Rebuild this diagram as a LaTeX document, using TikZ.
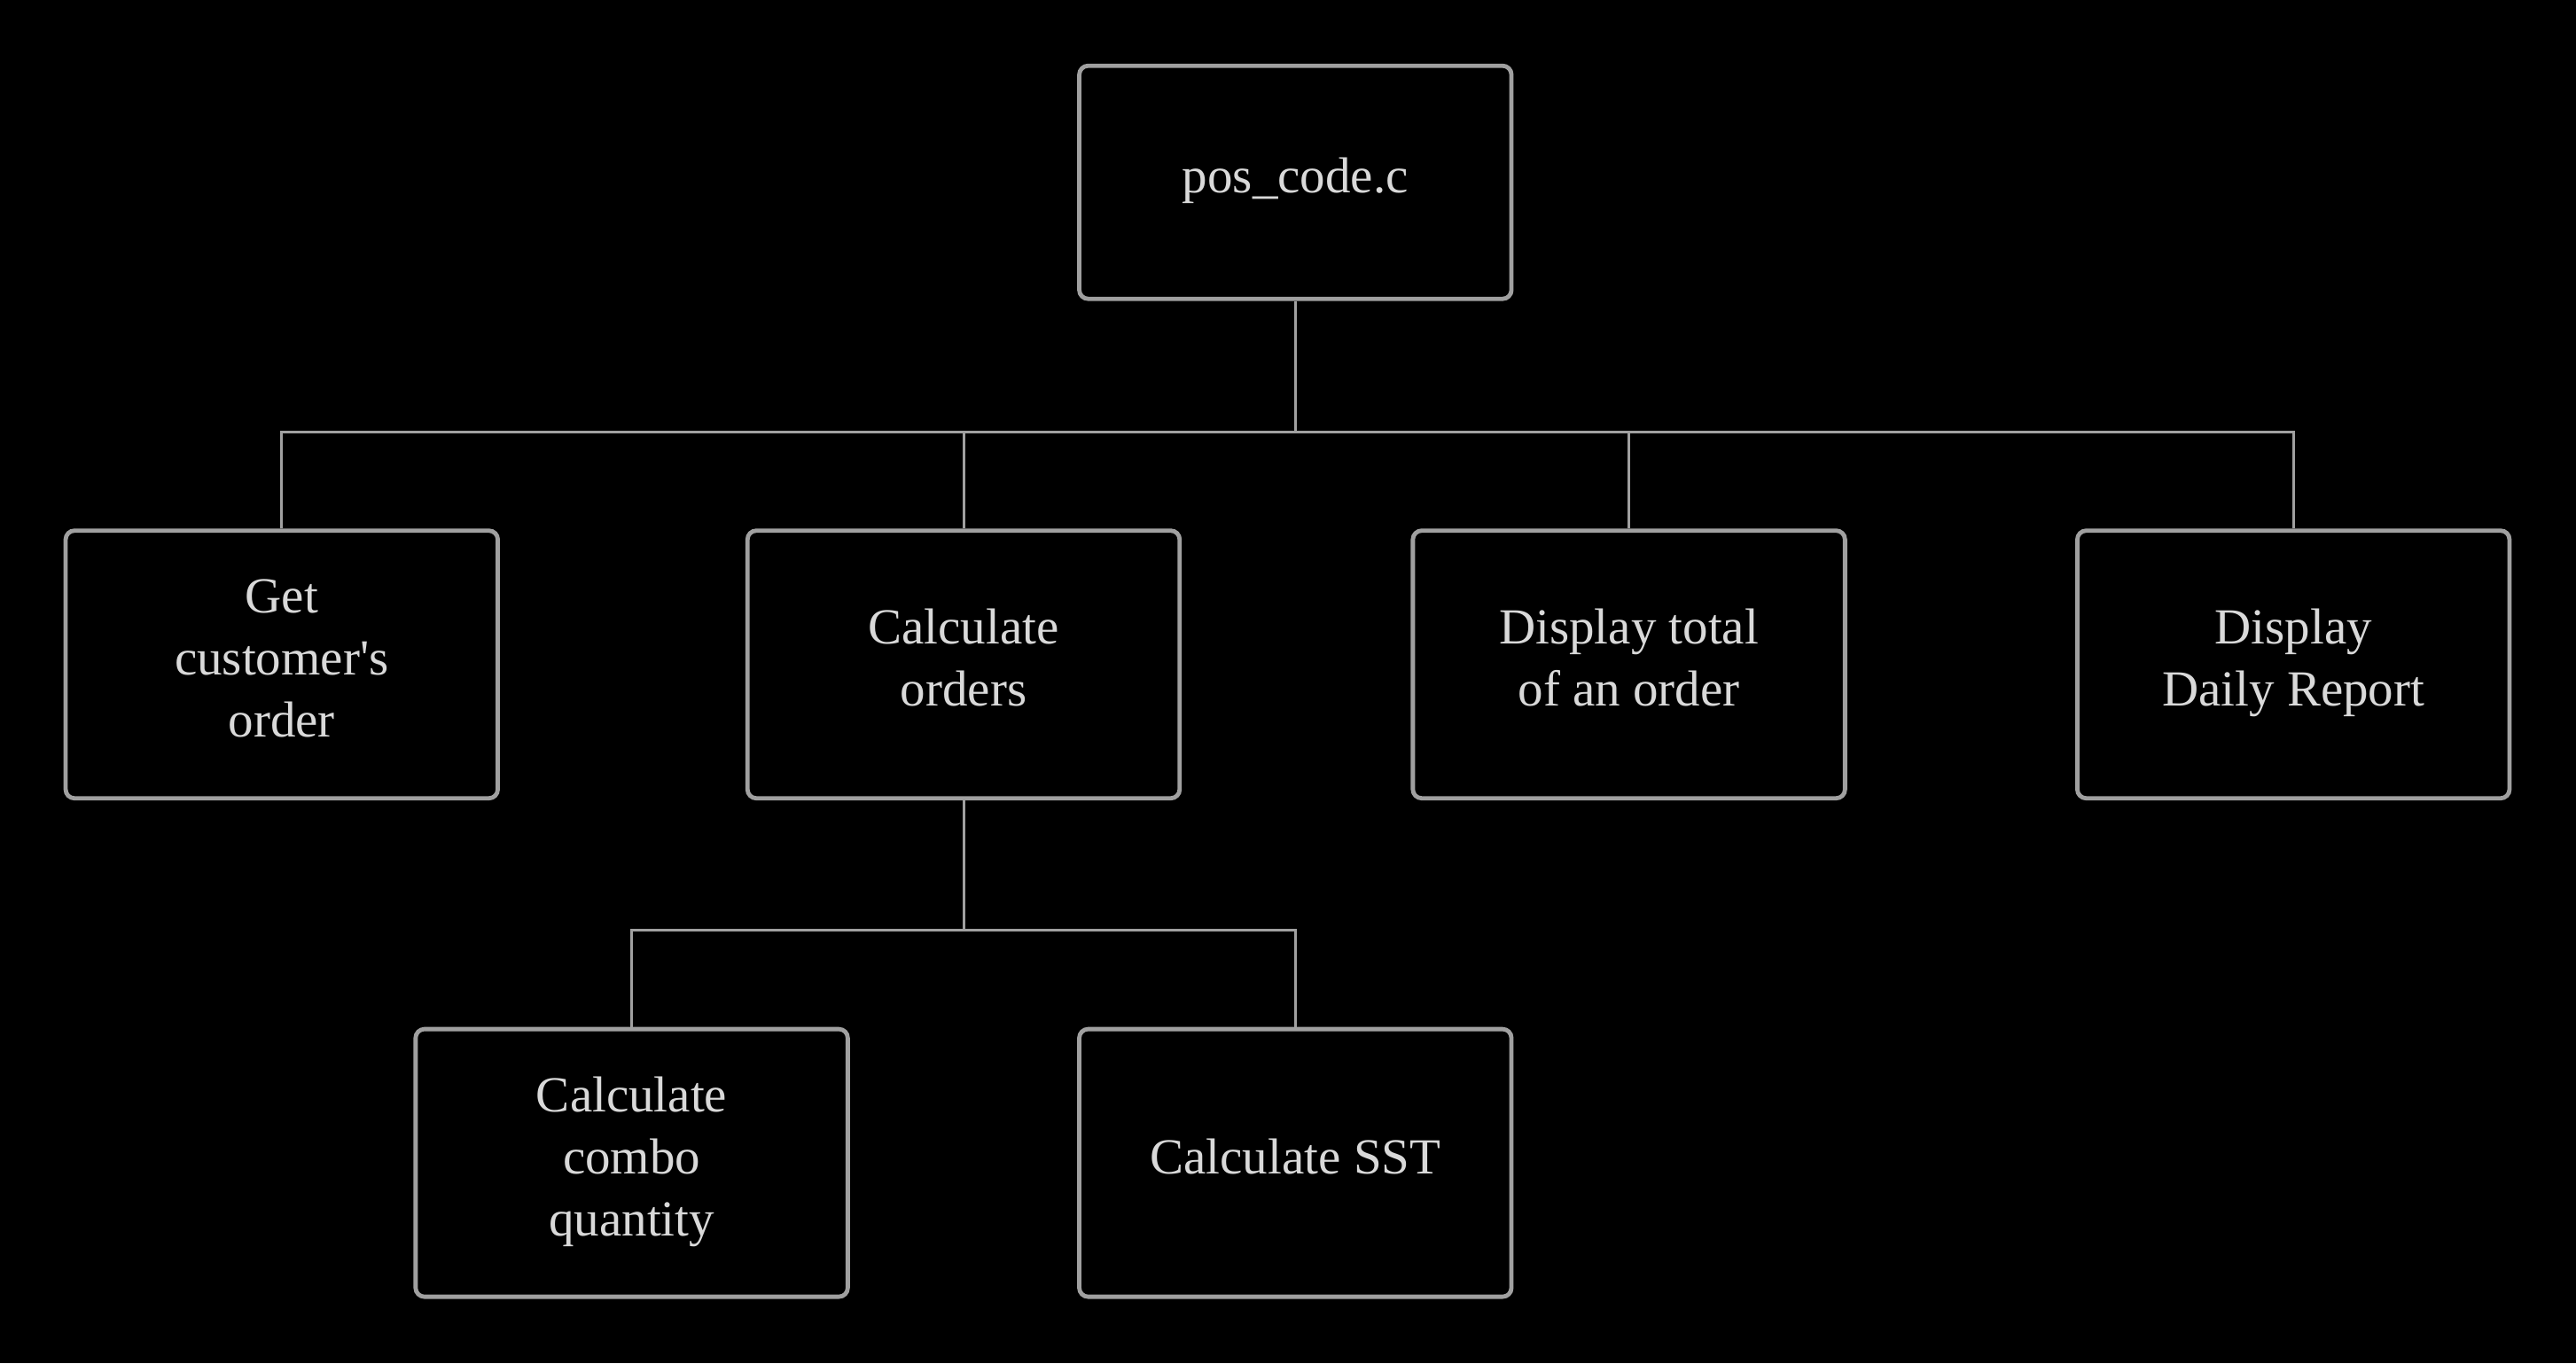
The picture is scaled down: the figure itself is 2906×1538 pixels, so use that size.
\documentclass[tikz,border=0pt]{standalone}
\usepackage{fontspec}
\setmainfont{Liberation Serif}
\definecolor{bordc}{RGB}{160,160,160}
\definecolor{txtc}{RGB}{217,217,217}
\newcommand\fst{\rule{0pt}{26pt}}
\begin{document}
\begin{tikzpicture}[x=0.5pt,y=-0.5pt,
  box/.style={draw=bordc, line width=2.4pt, rounded corners=5pt, rectangle,
    minimum width=243.75pt, align=center, text=txtc,
    font=\fontsize{28.5}{35}\selectfont, inner sep=0pt,
    execute at end node={\rule[-14pt]{0pt}{14pt}}},
  topbox/.style={box, minimum height=131.5pt},
  midbox/.style={box, minimum height=151pt},
  conn/.style={draw=bordc, line width=1.5pt}]
\fill[black] (0,0) rectangle (2906,1538);
\useasboundingbox (0,0) rectangle (2906,1538);
\node[topbox] (top) at (1461.3,205.7) {\fst pos\_code.c};
\node[midbox] (b1) at (317.8,749.7) {\fst Get\\customer\textquotesingle s\\order};
\node[midbox] (b2) at (1087.0,749.7) {\fst Calculate\\orders};
\node[midbox] (b3) at (1837.6,749.7) {\fst Display total\\of an order};
\node[midbox] (b4) at (2587.2,749.7) {\fst Display\\Daily Report};
\node[midbox] (c1) at (712.6,1312.1) {\fst Calculate\\combo\\quantity};
\node[midbox] (c2) at (1461.3,1312.1) {\fst Calculate SST};
\coordinate (j1) at (1461.3,487.4);
\coordinate (j2) at (1087.0,1049.0);
\draw[conn] (top.south) -- (j1);
\draw[conn] (b1.north) |- (j1) -| (b4.north);
\draw[conn] (b2.north) -- (b2.north |- j1);
\draw[conn] (b3.north) -- (b3.north |- j1);
\draw[conn] (b2.south) -- (j2);
\draw[conn] (c1.north) |- (j2) -| (c2.north);
\end{tikzpicture}
\end{document}
